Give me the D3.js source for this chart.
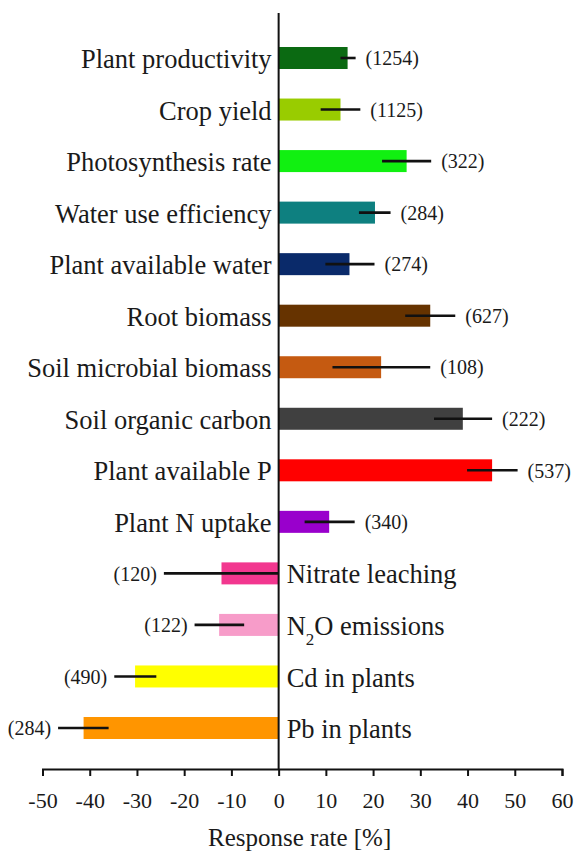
<!DOCTYPE html>
<html>
<head>
<meta charset="utf-8">
<script src="https://cdn.jsdelivr.net/npm/d3@7"></script>
<style>
    body { margin: 0; background: #fff; }
    svg text { font-family: "Liberation Serif", "Times New Roman", Times, "DejaVu Serif", "Noto Serif", serif; fill: #1a1a1a; }
    .axis path, .axis line { stroke: #111; stroke-width: 2px; }
    .axis text { font-size: 22px; }
</style>
</head>
<body>
<svg id="chart" width="575" height="855"></svg>
<script>
// data
var categories = ["Plant productivity", "Crop yield", "Photosynthesis rate", "Water use efficiency",
    "Plant available water", "Root biomass", "Soil microbial biomass", "Soil organic carbon",
    "Plant available P", "Plant N uptake", "Nitrate leaching", "N2O emissions",
    "Cd in plants", "Pb in plants"];
var responses = [14.6, 13.1, 27.1, 20.4, 15.0, 32.1, 21.7, 39.0, 45.2, 10.7, -12.1, -12.6, -30.4, -41.3];
var errLow = [13.1, 8.9, 21.9, 17.0, 9.9, 26.8, 11.4, 32.9, 39.9, 5.5, -24.3, -17.8, -34.8, -46.7];
var errHigh = [16.3, 17.3, 32.3, 23.7, 20.3, 37.4, 32.1, 45.2, 50.6, 16.1, 0, -7.3, -25.9, -36.0];
var counts = [1254, 1125, 322, 284, 274, 627, 108, 222, 537, 340, 120, 122, 490, 284];
var colours = ["#0b6a12", "#99cc00", "#11f011", "#0e8080", "#0a2a6a", "#663300", "#c55a11",
    "#404040", "#ff0000", "#9900cc", "#f2378f", "#f79cc9", "#ffff00", "#ff9500"];
var xTicks = [-50, -40, -30, -20, -10, 0, 10, 20, 30, 40, 50, 60];

var svg = d3.select("svg#chart");

var rows = categories.map(function (c, i) {
    return {name: c, value: responses[i], lo: errLow[i], hi: errHigh[i], n: counts[i], colour: colours[i]};
});

var x = d3.scaleLinear().domain([-50, 60]).range([42.5, 562]);
var y = d3.scalePoint().domain(categories).range([58, 728]);
var barH = 22,
    axisY = 769;

// bars
svg.selectAll("rect.bar")
    .data(rows)
    .enter().append("rect")
    .attr("class", "bar")
    .attr("x", function (d) { return x(Math.min(0, d.value)); })
    .attr("y", function (d) { return y(d.name) - barH / 2; })
    .attr("width", function (d) { return Math.abs(x(d.value) - x(0)); })
    .attr("height", barH)
    .attr("fill", function (d) { return d.colour; });

// error bars
svg.selectAll("line.err")
    .data(rows)
    .enter().append("line")
    .attr("class", "err")
    .attr("x1", function (d) { return x(d.lo); })
    .attr("x2", function (d) { return x(d.hi); })
    .attr("y1", function (d) { return y(d.name); })
    .attr("y2", function (d) { return y(d.name); })
    .attr("stroke", "#111")
    .attr("stroke-width", 2.6);

// sample sizes
svg.selectAll("text.count")
    .data(rows)
    .enter().append("text")
    .attr("class", "count")
    .attr("x", function (d) {
        return d.value >= 0 ? x(Math.max(d.hi, d.value)) + 10 : x(Math.min(d.lo, d.value)) - 7;
    })
    .attr("y", function (d) { return y(d.name); })
    .attr("dy", "0.36em")
    .attr("text-anchor", function (d) { return d.value >= 0 ? "start" : "end"; })
    .style("font-size", "20px")
    .text(function (d) { return "(" + d.n + ")"; });

// category labels
var labels = svg.selectAll("text.cat")
    .data(rows)
    .enter().append("text")
    .attr("class", "cat")
    .attr("x", function (d) { return d.value >= 0 ? x(0) - 7 : x(0) + 8; })
    .attr("y", function (d) { return y(d.name); })
    .attr("dy", "0.38em")
    .attr("text-anchor", function (d) { return d.value >= 0 ? "end" : "start"; })
    .style("font-size", "26.5px");

labels.each(function (d) {
    var t = d3.select(this);
    if (d.name === "N2O emissions") {
        t.append("tspan").text("N");
        t.append("tspan").attr("baseline-shift", "sub").style("font-size", "17px").text("2");
        t.append("tspan").text("O emissions");
    } else {
        t.text(d.name);
    }
});

// zero line
svg.append("line")
    .attr("x1", x(0)).attr("x2", x(0))
    .attr("y1", 13).attr("y2", axisY)
    .attr("stroke", "#111")
    .attr("stroke-width", 2);

// x axis, plain hyphen for negatives like the original
var xAxis = d3.axisBottom(x)
    .tickValues(xTicks)
    .tickFormat(function (d) { return String(d); })
    .tickSize(7)
    .tickSizeOuter(7)
    .tickPadding(16);

svg.append("g")
    .attr("class", "x axis")
    .attr("transform", "translate(0," + axisY + ")")
    .call(xAxis);

svg.select(".x.axis").attr("font-family", null);
svg.select(".x.axis").selectAll("text").attr("fill", "#1a1a1a");

svg.append("text")
    .attr("x", x(0) + 21)
    .attr("y", 846)
    .attr("text-anchor", "middle")
    .style("font-size", "25px")
    .text("Response rate [%]");
</script>
</body>
</html>
